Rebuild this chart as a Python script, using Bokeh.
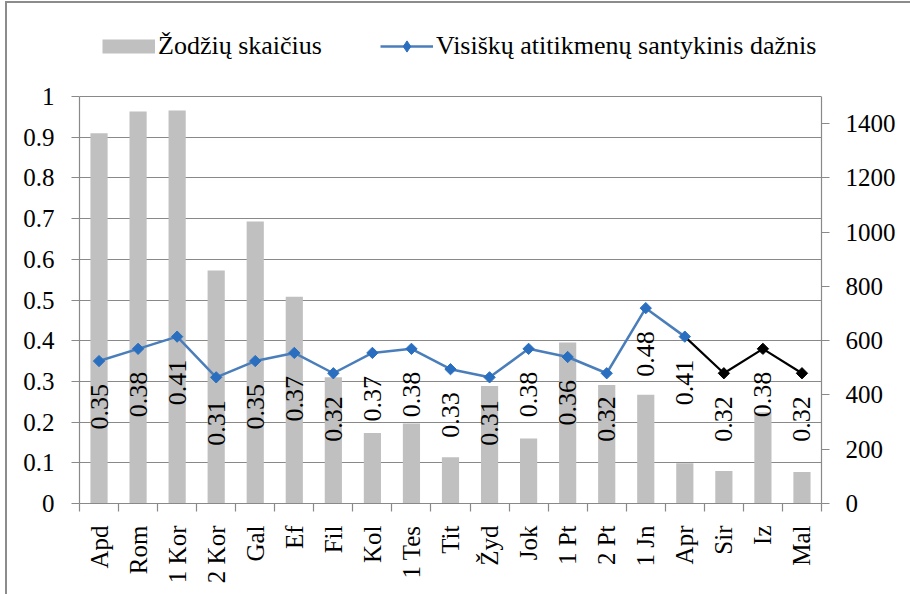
import math
from bokeh.plotting import figure
from bokeh.models import (Range1d, LinearAxis, FixedTicker, CustomJSTickFormatter,
                          Legend, LegendItem, Grid)
from bokeh.core.properties import value
from bokeh.embed import file_html
from bokeh.resources import INLINE

# ---- data ----
categories = ["Apd", "Rom", "1 Kor", "2 Kor", "Gal", "Ef", "Fil", "Kol", "1 Tes", "Tit",
              "Žyd", "Jok", "1 Pt", "2 Pt", "1 Jn", "Apr", "Sir", "Iz", "Mal"]
word_counts = [1365, 1445, 1448, 859, 1039, 762, 465, 260, 295, 170,
               433, 240, 593, 437, 401, 148, 120, 336, 116]
match_freq = [0.35, 0.38, 0.41, 0.31, 0.35, 0.37, 0.32, 0.37, 0.38, 0.33,
              0.31, 0.38, 0.36, 0.32, 0.48, 0.41, 0.32, 0.38, 0.32]
left_ticks = [0, 0.1, 0.2, 0.3, 0.4, 0.5, 0.6, 0.7, 0.8, 0.9, 1.0]
right_ticks = [0, 200, 400, 600, 800, 1000, 1200, 1400]
bar_name = "Žodžių skaičius"
line_name = "Visiškų atitikmenų santykinis dažnis"
split_index = 15  # from "Apr" on the line is drawn in black

FONT = "Liberation Serif"
GRAY = "#898989"
BLUE_LINE = "#4a7ebb"
BLUE_MARK = "#2a6fbf"

# layout: axes occupy 407 px (0..1); frame extends above to host the legend
AXIS_PX = 407
FRAME_PX = 483
LEFT_MAX, RIGHT_MAX = 1.0, 1500
stretch = FRAME_PX / AXIS_PX

n = len(categories)
xs = [i + 0.5 for i in range(n)]
labels = [f"{v:.2f}" for v in match_freq]
offscreen_x = [-3, -2]          # legend-only renderers live outside the view
offscreen_y = [0.5, 0.5]

p = figure(frame_width=742, frame_height=FRAME_PX,
           x_range=Range1d(0, n), y_range=Range1d(0, LEFT_MAX * stretch),
           x_axis_type=None, y_axis_type=None,
           output_backend="svg", toolbar_location=None,
           min_border_left=79, min_border_right=89,
           min_border_top=20, min_border_bottom=91)
p.extra_y_ranges = {"w": Range1d(0, RIGHT_MAX * stretch)}
p.outline_line_color = None
p.background_fill_color = "white"
p.border_fill_alpha = 0
p.styles = {"background": "linear-gradient(#8c8c8c,#8c8c8c) 5px 1px / 2px 100% no-repeat, "
                          "linear-gradient(#8c8c8c,#8c8c8c) 5px 1px / 100% 2px no-repeat, white"}

left_ticker = FixedTicker(ticks=left_ticks)
left = LinearAxis(ticker=left_ticker, bounds=(0, LEFT_MAX),
                  formatter=CustomJSTickFormatter(code="return String(Number(tick.toFixed(1)));"))
right = LinearAxis(y_range_name="w", ticker=FixedTicker(ticks=right_ticks), bounds=(0, RIGHT_MAX))
bottom = LinearAxis(ticker=FixedTicker(ticks=xs, minor_ticks=list(range(n + 1))),
                    formatter=CustomJSTickFormatter(args=dict(labels=categories),
                                                    code="return labels[Math.round(tick - 0.5)];"))

for ax in (left, right, bottom):
    ax.axis_line_color = GRAY
    ax.axis_line_width = 1.2
    ax.major_tick_line_color = GRAY
    ax.major_tick_line_width = 1.2
    ax.minor_tick_line_color = None
    ax.major_tick_in = 0
    ax.major_tick_out = 8
    ax.major_label_text_font = FONT
    ax.major_label_text_font_size = "25px"
    ax.major_label_text_color = "black"

left.major_label_standoff = 17
right.major_label_standoff = 16
bottom.major_tick_out = 0
bottom.major_tick_line_color = None
bottom.minor_tick_line_color = GRAY
bottom.minor_tick_line_width = 1.2
bottom.minor_tick_in = 0
bottom.minor_tick_out = 8
bottom.major_label_orientation = math.pi / 2
bottom.major_label_standoff = 14

p.add_layout(left, "left")
p.add_layout(right, "right")
p.add_layout(bottom, "below")

p.add_layout(Grid(dimension=1, ticker=left_ticker, grid_line_color=GRAY, grid_line_width=1.2))

# bars
p.vbar(x=xs, top=word_counts, width=0.44, y_range_name="w",
       fill_color="#c0c0c0", line_color=None)

# line
blue_line = p.line(xs[:split_index + 1], match_freq[:split_index + 1],
                   line_color=BLUE_LINE, line_width=2.5)
p.line(xs[split_index:], match_freq[split_index:], line_color="black", line_width=2.2)
p.scatter(xs[:split_index + 1], match_freq[:split_index + 1], marker="square",
          angle=math.pi / 4, size=8, fill_color=BLUE_MARK, line_color=BLUE_MARK)
p.scatter(xs[split_index + 1:], match_freq[split_index + 1:], marker="square",
          angle=math.pi / 4, size=8, fill_color="black", line_color="black")

# data labels
p.text(xs, match_freq, text=labels, angle=math.pi / 2, text_align="right",
       text_baseline="middle", y_offset=23, text_font=value(FONT),
       text_font_size="26px", text_color="black")

# legend-only renderers (outside the visible ranges)
bar_legend = p.line(x=offscreen_x, y=offscreen_y, line_color="#c0c0c0",
                    line_width=14, line_cap="butt")
mark_legend = p.scatter(x=offscreen_x, y=offscreen_y, marker="diamond", size=12,
                        fill_color=BLUE_MARK, line_color=BLUE_MARK)

legend = Legend(items=[LegendItem(label=bar_name, renderers=[bar_legend]),
                       LegendItem(label=line_name, renderers=[blue_line, mark_legend])],
                location=(23, 442), orientation="horizontal",
                glyph_width=53, glyph_height=28, label_standoff=3, spacing=58,
                padding=0, margin=0, border_line_color=None, background_fill_alpha=0,
                label_text_font=FONT, label_text_font_size="26px",
                label_text_baseline="middle", label_text_color="black")
p.add_layout(legend)

open("out.html", "w").write(file_html(p, INLINE))
